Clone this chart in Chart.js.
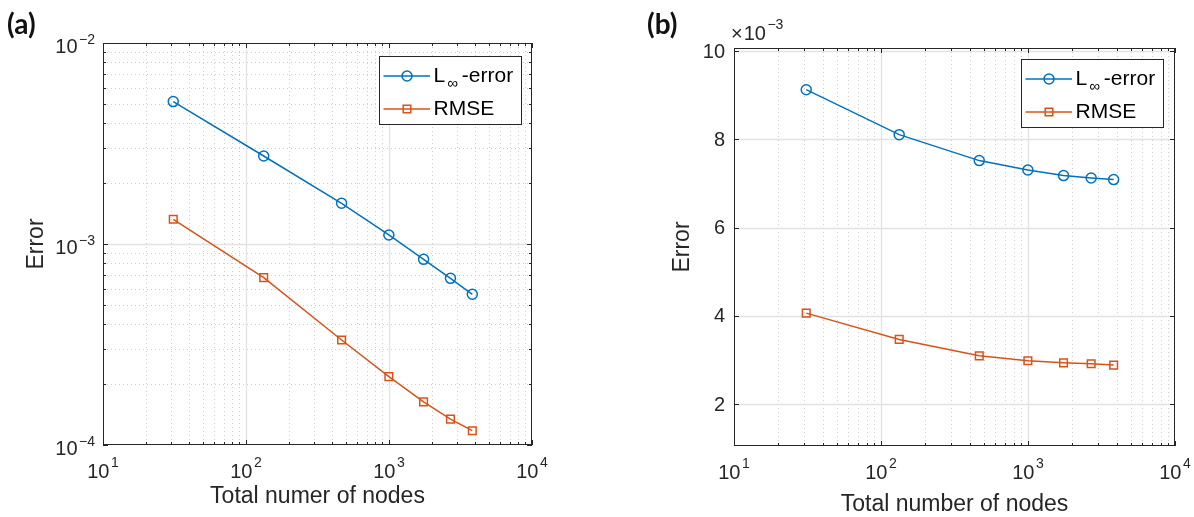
<!DOCTYPE html>
<html>
<head>
<meta charset="utf-8">
<script src="https://cdn.jsdelivr.net/npm/chart.js@4.4.1/dist/chart.umd.min.js"></script>
<style>
  html, body { margin: 0; padding: 0; background: #ffffff; }
  #wrap { position: relative; width: 1194px; height: 517px; overflow: hidden; }
  canvas { position: absolute; top: 0; }
  #cA { left: 0; }
  #cB { left: 597px; }
</style>
</head>
<body>
<div id="wrap">
  <canvas id="cA" width="597" height="517"></canvas>
  <canvas id="cB" width="597" height="517"></canvas>
</div>
<script>
// Total number of nodes used in each refinement level
const nodes = [31, 133, 466, 998, 1745, 2690, 3825];

// (a) errors on log-log axes
const linfA = [5.11e-3, 2.74e-3, 1.594e-3, 1.109e-3, 8.39e-4, 6.75e-4, 5.62e-4];
const rmseA = [1.327e-3, 6.8e-4, 3.33e-4, 2.19e-4, 1.64e-4, 1.346e-4, 1.178e-4];

// (b) errors on semilog-x axes
const linfB = [9.125e-3, 8.106e-3, 7.518e-3, 7.305e-3, 7.178e-3, 7.124e-3, 7.088e-3];
const rmseB = [4.061e-3, 3.465e-3, 3.094e-3, 2.981e-3, 2.935e-3, 2.913e-3, 2.883e-3];

// Tick positions and labels
const xTicks = [10, 100, 1000, 10000];
const xTickExp = ['1', '2', '3', '4'];
const yTicksA = [1e-4, 1e-3, 1e-2];
const yTickExpA = ['\u22124', '\u22123', '\u22122'];
const yTicksB = [2e-3, 4e-3, 6e-3, 8e-3, 10e-3];
const yTickLabB = ['2', '4', '6', '8', '10'];

const seriesNames = ['L\u221E-error', 'RMSE'];

const BLUE = '#0072BD';
const ORANGE = '#D95319';
const INK = '#262626';
const MAJOR_GRID = '#e2e2e2';
const MINOR_GRID = '#cdcdcd';
const FONT = '"Liberation Sans", Arial, Helvetica, sans-serif';
const BASE_PX = 20;
const EXP_PX = 14;

function pairs(xs, ys) { return xs.map((v, i) => ({ x: v, y: ys[i] })); }

function logMinor(min, max) {
  const out = [];
  for (let d = Math.floor(Math.log10(min) + 1e-9); d < Math.ceil(Math.log10(max) - 1e-9); d++) {
    for (let k = 2; k <= 9; k++) {
      const v = k * Math.pow(10, d);
      if (v > min * 1.0001 && v < max * 0.9999) out.push(v);
    }
  }
  return out;
}

function seg(ctx, x1, y1, x2, y2) {
  ctx.beginPath(); ctx.moveTo(x1, y1); ctx.lineTo(x2, y2); ctx.stroke();
}

// "10" with a raised exponent; align: 'center' or 'right'
function powerLabel(ctx, x, y, exp, align, supDy) {
  ctx.save();
  ctx.fillStyle = INK;
  ctx.textBaseline = 'middle';
  ctx.textAlign = 'left';
  ctx.font = BASE_PX + 'px ' + FONT;
  const wb = ctx.measureText('10').width;
  ctx.font = EXP_PX + 'px ' + FONT;
  const we = ctx.measureText(exp).width;
  const gap = 1.5;
  const total = wb + gap + we;
  const x0 = align === 'right' ? x - total : x - total / 2;
  ctx.font = BASE_PX + 'px ' + FONT;
  ctx.fillText('10', x0, y);
  ctx.font = EXP_PX + 'px ' + FONT;
  ctx.fillText(exp, x0 + wb + gap, y - supDy);
  ctx.restore();
}

function drawMarker(ctx, kind, x, y, color) {
  ctx.save();
  ctx.strokeStyle = color;
  ctx.lineWidth = 1.5;
  ctx.beginPath();
  if (kind === 'circle') ctx.arc(x, y, 5, 0, Math.PI * 2);
  else ctx.rect(x - 3.8, y - 3.8, 7.6, 7.6);
  ctx.stroke();
  ctx.restore();
}

function panelPlugin(cfg) {
  return {
    id: 'panel' + cfg.tag,
    beforeDatasetsDraw(chart) {
      const { ctx, chartArea: a, scales: { x, y } } = chart;
      ctx.save();
      ctx.lineWidth = 1;
      // minor dotted grid
      ctx.strokeStyle = MINOR_GRID;
      ctx.setLineDash([1, 3]);
      for (const v of logMinor(x.min, x.max)) {
        const px = Math.round(x.getPixelForValue(v)) + 0.5;
        seg(ctx, px, a.top, px, a.bottom);
      }
      if (cfg.yLog) {
        for (const v of logMinor(y.min, y.max)) {
          const py = Math.round(y.getPixelForValue(v)) + 0.5;
          seg(ctx, a.left, py, a.right, py);
        }
      }
      // major solid grid
      ctx.setLineDash([]);
      ctx.strokeStyle = MAJOR_GRID;
      ctx.lineWidth = 1.3;
      for (const v of xTicks) {
        if (v <= x.min || v >= x.max) continue;
        const px = Math.round(x.getPixelForValue(v)) + 0.5;
        seg(ctx, px, a.top, px, a.bottom);
      }
      for (const v of cfg.yTicks) {
        if (v <= y.min || v >= y.max) continue;
        const py = Math.round(y.getPixelForValue(v)) + 0.5;
        seg(ctx, a.left, py, a.right, py);
      }
      ctx.restore();
    },
    afterDatasetsDraw(chart) {
      const { ctx, chartArea: a, scales: { x, y } } = chart;
      ctx.save();
      // axes box
      ctx.strokeStyle = INK;
      ctx.lineWidth = 1;
      ctx.strokeRect(a.left + 0.5, a.top + 0.5, a.right - a.left - 1, a.bottom - a.top - 1);
      // inward ticks
      const MAJ = 5, MIN = 3;
      for (const v of xTicks) {
        const px = Math.round(x.getPixelForValue(v)) + 0.5;
        seg(ctx, px, a.bottom, px, a.bottom - MAJ);
        seg(ctx, px, a.top, px, a.top + MAJ);
      }
      for (const v of logMinor(x.min, x.max)) {
        const px = Math.round(x.getPixelForValue(v)) + 0.5;
        seg(ctx, px, a.bottom, px, a.bottom - MIN);
        seg(ctx, px, a.top, px, a.top + MIN);
      }
      for (const v of cfg.yTicks) {
        const py = Math.round(y.getPixelForValue(v)) + 0.5;
        seg(ctx, a.left, py, a.left + MAJ, py);
        seg(ctx, a.right, py, a.right - MAJ, py);
      }
      if (cfg.yLog) {
        for (const v of logMinor(y.min, y.max)) {
          const py = Math.round(y.getPixelForValue(v)) + 0.5;
          seg(ctx, a.left, py, a.left + MIN, py);
          seg(ctx, a.right, py, a.right - MIN, py);
        }
      }
      ctx.restore();

      // x tick labels
      xTicks.forEach((v, i) => {
        powerLabel(ctx, x.getPixelForValue(v), a.bottom + 27, xTickExp[i], 'center', 8.5);
      });
      // y tick labels
      if (cfg.yLog) {
        cfg.yTicks.forEach((v, i) => {
          powerLabel(ctx, a.left - 8, y.getPixelForValue(v) + 4.5, cfg.yTickLabels[i], 'right', 7);
        });
      } else {
        ctx.save();
        ctx.fillStyle = INK;
        ctx.font = BASE_PX + 'px ' + FONT;
        ctx.textAlign = 'right';
        ctx.textBaseline = 'middle';
        cfg.yTicks.forEach((v, i) => {
          ctx.fillText(cfg.yTickLabels[i], a.left - 9, y.getPixelForValue(v) + 1);
        });
        ctx.restore();
        // exponent multiplier above the axis
        ctx.save();
        ctx.fillStyle = INK;
        ctx.textBaseline = 'middle';
        ctx.textAlign = 'left';
        ctx.font = BASE_PX + 'px ' + FONT;
        const mx = a.left - 3;
        const my = a.top - 14;
        ctx.fillText('\u00D7', mx, my);
        const wx = ctx.measureText('\u00D7').width;
        ctx.fillText('10', mx + wx + 1, my);
        const w10 = ctx.measureText('10').width;
        ctx.font = EXP_PX + 'px ' + FONT;
        ctx.fillText('\u22123', mx + wx + 1 + w10 + 1.5, my - 8.5);
        ctx.restore();
      }

      // axis titles
      ctx.save();
      ctx.fillStyle = INK;
      ctx.font = '23px ' + FONT;
      ctx.textAlign = 'center';
      ctx.textBaseline = 'middle';
      ctx.fillText(cfg.xTitle, (a.left + a.right) / 2, cfg.xTitleY);
      ctx.translate(cfg.yTitleX, (a.top + a.bottom) / 2);
      ctx.rotate(-Math.PI / 2);
      ctx.fillText('Error', 0, 0);
      ctx.restore();

      // panel tag
      ctx.save();
      ctx.fillStyle = '#111111';
      ctx.font = 'bold 28px Lato, "Open Sans", sans-serif';
      ctx.textAlign = 'left';
      ctx.textBaseline = 'middle';
      ctx.fillText(cfg.tag, cfg.tagX, 25);
      ctx.restore();

      // legend box
      const L = cfg.legend;
      ctx.save();
      ctx.fillStyle = '#ffffff';
      ctx.fillRect(L.x, L.y, 142, 68);
      ctx.strokeStyle = INK;
      ctx.lineWidth = 1;
      ctx.strokeRect(Math.round(L.x) + 0.5, Math.round(L.y) + 0.5, 142, 68);
      const rows = [
        { color: BLUE, kind: 'circle', dy: 20 },
        { color: ORANGE, kind: 'rect', dy: 53 }
      ];
      rows.forEach((r, i) => {
        const ry = L.y + r.dy;
        ctx.strokeStyle = r.color;
        ctx.lineWidth = 1.5;
        seg(ctx, L.x + 4.5, ry, L.x + 51, ry);
        drawMarker(ctx, r.kind, L.x + 28, ry, r.color);
        ctx.fillStyle = '#000000';
        ctx.textAlign = 'left';
        ctx.textBaseline = 'middle';
        const tx = L.x + 54.5;
        if (i === 0) {
          const name = seriesNames[0];
          ctx.font = '21px ' + FONT;
          ctx.fillText(name.charAt(0), tx, ry);
          const wl = ctx.measureText(name.charAt(0)).width;
          ctx.font = '15px ' + FONT;
          ctx.fillText(name.charAt(1), tx + wl + 2, ry + 7.5);
          const wi = ctx.measureText(name.charAt(1)).width;
          ctx.font = '21px ' + FONT;
          ctx.fillText(name.slice(2), tx + wl + 2 + wi + 4, ry);
        } else {
          ctx.font = '21px ' + FONT;
          ctx.fillText(seriesNames[1], tx, ry);
        }
      });
      ctx.restore();
    }
  };
}

function makeDatasets(linf, rmse) {
  return [
    {
      label: seriesNames[0], data: pairs(nodes, linf),
      borderColor: BLUE, borderWidth: 1.5, backgroundColor: 'rgba(0,0,0,0)',
      pointStyle: 'circle', pointRadius: 5, pointBorderWidth: 1.5,
      pointBorderColor: BLUE, pointBackgroundColor: 'rgba(0,0,0,0)', tension: 0
    },
    {
      label: seriesNames[1], data: pairs(nodes, rmse),
      borderColor: ORANGE, borderWidth: 1.5, backgroundColor: 'rgba(0,0,0,0)',
      pointStyle: 'rect', pointRadius: 5.4, pointBorderWidth: 1.5,
      pointBorderColor: ORANGE, pointBackgroundColor: 'rgba(0,0,0,0)', tension: 0
    }
  ];
}

function baseOptions(padding, yScale) {
  return {
    responsive: false,
    animation: false,
    devicePixelRatio: 1,
    layout: { padding },
    plugins: { legend: { display: false }, tooltip: { enabled: false } },
    scales: {
      x: { type: 'logarithmic', min: 10, max: 10000, display: false },
      y: yScale
    }
  };
}

new Chart(document.getElementById('cA'), {
  type: 'line',
  data: { datasets: makeDatasets(linfA, rmseA) },
  options: baseOptions(
    { left: 103, top: 43, right: 65, bottom: 72 },
    { type: 'logarithmic', min: 1e-4, max: 1e-2, display: false }
  ),
  plugins: [panelPlugin({
    tag: '(a)', tagX: 7, yLog: true,
    yTicks: yTicksA, yTickLabels: yTickExpA,
    xTitle: 'Total numer of nodes', xTitleY: 497, yTitleX: 37,
    legend: { x: 379, y: 56 }
  })]
});

new Chart(document.getElementById('cB'), {
  type: 'line',
  data: { datasets: makeDatasets(linfB, rmseB) },
  options: baseOptions(
    { left: 137, top: 48, right: 19, bottom: 71 },
    { type: 'linear', min: 1.05e-3, max: 10.07e-3, display: false }
  ),
  plugins: [panelPlugin({
    tag: '(b)', tagX: 50, yLog: false,
    yTicks: yTicksB, yTickLabels: yTickLabB,
    xTitle: 'Total number of nodes', xTitleY: 505, yTitleX: 86,
    legend: { x: 424, y: 59 }
  })]
});
</script>
</body>
</html>
